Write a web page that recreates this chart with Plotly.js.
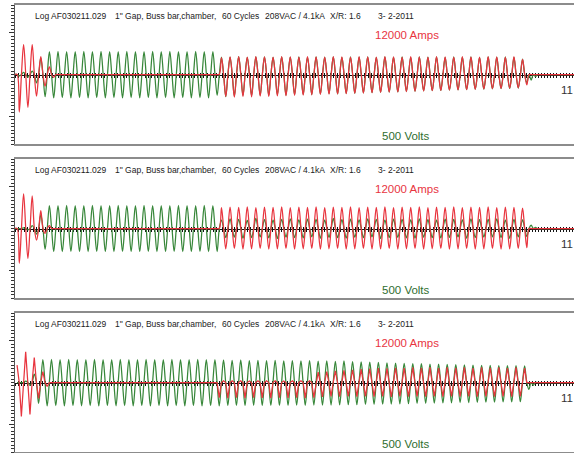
<!DOCTYPE html>
<html>
<head>
<meta charset="utf-8">
<script src="https://cdn.plot.ly/plotly-3.0.1.min.js"></script>
<style>html,body{margin:0;padding:0;background:#fff;}#chart{width:574px;height:453px;}</style>
</head>
<body>
<div id="chart"></div>
<script>
// ---- Data (signed peak value of each half-cycle, 60 Hz) ----
// Panel 1
const p1Volts = [
  0, -10, 15, -20, 25, -60, 120, -160, 165, -168,
  166, -167, 165, -168, 164, -167, 166, -168, 165, -167,
  166, -168, 164, -167, 165, -168, 166, -167, 165, -168,
  164, -167, 166, -168, 165, -167, 166, -168, 164, -167,
  165, -168, 166, -167, 165, -168, 164, -150, 125, -160,
  125, -155, 128, -150, 124, -152, 127, -148, 126, -150,
  124, -146, 127, -148, 125, -145, 126, -143, 124, -144,
  127, -140, 125, -138, 126, -140, 124, -136, 127, -135,
  125, -132, 126, -130, 124, -128, 127, -126, 125, -125,
  126, -122, 124, -120, 127, -118, 125, -116, 126, -115,
  124, -112, 127, -110, 125, -108, 126, -106, 124, -105,
  127, -104, 125, -102, 126, -100, 124, -98, 110, -60,
  -40, -15, 0, 0, 0, 0, 0, 0, 0, 0,
  0
];
const p1Amps = [
  0, -6500, 5150, -5650, 5150, -3750, 3100, -2000, 1300, -500,
  0, 0, 0, 0, 0, 0, 0, 0, 0, 0,
  0, 0, 0, 0, 0, 0, 0, 0, 0, 0,
  0, 0, 0, 0, 0, 0, 0, 0, 0, 0,
  0, 0, 0, 0, 0, 0, 0, 0, 2900, -3800,
  3050, -3900, 3100, -3800, 3000, -3850, 3100, -3750, 3050, -3800,
  3000, -3700, 3100, -3650, 3050, -3600, 3000, -3550, 3100, -3500,
  3050, -3450, 3000, -3400, 3100, -3350, 3050, -3300, 3000, -3250,
  3100, -3200, 3050, -3150, 3000, -3100, 3100, -3050, 3050, -3000,
  3000, -2950, 3100, -2900, 3050, -2850, 3000, -2800, 3100, -2750,
  3050, -2700, 3000, -2650, 3100, -2600, 3050, -2550, 3000, -2500,
  3100, -2450, 3050, -2400, 3000, -2350, 3100, -2300, 2600, -1800,
  0, 0, 0, 0, 0, 0, 0, 0, 0, 0,
  0
];
// Panel 2
const p2Volts = [
  0, 0, 5, -10, 20, -40, 100, -150, 165, -166,
  165, -167, 166, -165, 164, -166, 165, -167, 166, -165,
  165, -166, 164, -167, 166, -165, 165, -166, 164, -167,
  166, -165, 165, -167, 164, -166, 165, -165, 166, -167,
  165, -166, 164, -165, 166, -167, 165, -166, 60, -65,
  70, -62, 65, -70, 58, -66, 72, -60, 64, -68,
  60, -72, 66, -62, 70, -65, 62, -68, 67, -60,
  65, -70, 60, -64, 72, -66, 63, -70, 68, -62,
  62, -66, 70, -60, 65, -72, 60, -65, 68, -63,
  66, -68, 62, -70, 70, -62, 64, -66, 60, -68,
  68, -64, 65, -60, 62, -70, 70, -65, 63, -62,
  65, -60, 70, -65, 60, -70, 65, -60, 62, -58,
  25, 8, 0, 0, 0, 0, 0, 0, 0, 0,
  0
];
const p2Amps = [
  0, -6000, 6000, -5150, 5650, -2000, 3100, -850, 500, 0,
  0, 0, 0, 0, 0, 0, 0, 0, 0, 0,
  0, 0, 0, 0, 0, 0, 0, 0, 0, 0,
  0, 0, 0, 0, 0, 0, 0, 0, 0, 0,
  0, 0, 0, 0, 0, 0, 0, 0, 3600, -3500,
  3700, -3450, 3650, -3550, 3750, -3500, 3600, -3450, 3700, -3550,
  3650, -3500, 3750, -3450, 3600, -3550, 3700, -3500, 3650, -3450,
  3750, -3550, 3600, -3500, 3700, -3450, 3650, -3550, 3750, -3500,
  3600, -3450, 3700, -3550, 3650, -3500, 3750, -3450, 3600, -3550,
  3700, -3500, 3650, -3450, 3750, -3550, 3600, -3500, 3700, -3450,
  3650, -3550, 3750, -3500, 3600, -3450, 3700, -3550, 3650, -3500,
  3750, -3450, 3600, -3550, 3700, -3500, 3650, -3450, 3500, -3300,
  0, 0, 0, 0, 0, 0, 0, 0, 0, 0,
  0
];
// Panel 3
const p3Volts = [
  0, 0, 10, -20, 60, -150, 165, -168, 166, -167,
  165, -168, 166, -167, 164, -168, 165, -167, 166, -168,
  164, -167, 165, -168, 166, -167, 165, -168, 164, -167,
  166, -168, 165, -167, 164, -168, 166, -167, 165, -168,
  164, -167, 166, -168, 165, -167, 164, -168, 162, -166,
  160, -165, 162, -166, 158, -164, 160, -166, 157, -165,
  160, -164, 156, -165, 158, -163, 155, -164, 157, -162,
  154, -163, 156, -162, 152, -161, 155, -160, 150, -160,
  148, -158, 146, -157, 145, -156, 142, -155, 140, -154,
  138, -152, 136, -150, 135, -150, 133, -148, 132, -147,
  130, -146, 128, -145, 126, -145, 125, -143, 124, -142,
  123, -142, 122, -140, 122, -140, 121, -138, 120, -50,
  -20, 0, 0, 0, 0, 0, 0, 0, 0, 0,
  0
];
const p3Amps = [
  3000, -5850, 5300, -5500, 4300, -2750, 1900, -700, 0, 0,
  0, 0, 0, 0, 0, 0, 0, 0, 0, 0,
  0, 0, 0, 0, 0, 0, 0, 0, 0, 0,
  0, 0, 0, 0, 0, 0, 0, 0, 0, 0,
  0, 0, 0, 0, 0, 0, 0, -2600, 300, -2700,
  300, -2600, 300, -2700, 250, -2600, 300, -2650, 300, -2700,
  300, -2600, 250, -2650, 300, -2600, 300, -2700, 300, -2600,
  1800, -2500, 1900, -2400, 2000, -2450, 2100, -2400, 2200, -2450,
  2300, -2400, 2400, -2450, 2500, -2400, 2450, -2500, 2550, -2400,
  2500, -2450, 2600, -2400, 2550, -2450, 2600, -2400, 2500, -2450,
  2600, -2400, 2550, -2450, 2600, -2400, 2500, -2450, 2600, -2400,
  2550, -2450, 2600, -2400, 2500, -2450, 2600, -2400, 2500, 0,
  0, 0, 0, 0, 0, 0, 0, 0, 0, 0,
  0
];
const panelPhase = [0, 0, 4];           // ms, start of first half-cycle
const headerTexts = ['Log AF030211.029', '1" Gap, Buss bar,chamber,', '60 Cycles', '208VAC / 4.1kA', 'X/R: 1.6', '3- 2-2011'];
const ampsLabel = '12000 Amps';
const voltsLabel = '500 Volts';
const timeLabel = '11';
const voltRange = 500, ampRange = 12000, timeMax = 1083;

// ---- Build ----
const HALF = 1000 / 120; // ms per half-cycle at 60 Hz
function wave(peaks, phase) {
  const x = [], y = [];
  peaks.forEach((v, m) => {
    const t = phase + m * HALF;
    x.push(t); y.push(v);
    if (m < peaks.length - 1) { x.push(t + HALF / 2); y.push(0); }
  });
  return {x, y};
}
const W = 574, H = 453;
const GREEN = '#38873a', RED = '#e8353f';
const panels = [
  {volts: p1Volts, amps: p1Amps, top: 5, bot: 144, greenTop: false, redShape: 'spline'},
  {volts: p2Volts, amps: p2Amps, top: 159, bot: 298, greenTop: true, redShape: 'spline'},
  {volts: p3Volts, amps: p3Amps, top: 313, bot: 452, greenTop: false, redShape: 'linear'}
];
const ax = (p, n) => (n === 1 ? p : p + n);
const layout = {
  width: W, height: H, margin: {l: 0, r: 0, t: 0, b: 0},
  paper_bgcolor: '#fff', plot_bgcolor: '#fff', showlegend: false,
  annotations: []
};
const data = [];
const FONT = 'Liberation Sans, Arial, sans-serif';
const px = (x) => x / W, py = (y) => 1 - y / H;
const headerX = [33, 113, 220, 263, 328, 376];

panels.forEach((P, i) => {
  const xm = 3 * i + 1, xz1 = 3 * i + 2, xz2 = 3 * i + 3;
  const yv = 2 * i + 1, ya = 2 * i + 2;
  const dom = [py(P.bot), py(P.top)];
  const mid = (dom[0] + dom[1]) / 2;
  layout[ax('xaxis', xm)] = {
    domain: [15 / W, 1], range: [0, timeMax], anchor: ax('y', yv),
    showline: true, mirror: true, linecolor: '#8c8c8c', linewidth: 2,
    showticklabels: false, ticks: '', showgrid: false, zeroline: false, fixedrange: true
  };
  const zAxis = (side) => ({
    overlaying: ax('x', xm), anchor: 'free', position: mid, range: [0, timeMax],
    showline: true, linecolor: '#111', linewidth: 1, layer: 'below traces',
    ticks: side, ticklen: 2, tickwidth: 1, tickcolor: '#111', dtick: 6, tick0: 0,
    showticklabels: false, showgrid: false, zeroline: false
  });
  layout[ax('xaxis', xz1)] = zAxis('outside');
  layout[ax('xaxis', xz2)] = zAxis('inside');
  layout[ax('yaxis', yv)] = {
    domain: dom, range: [-voltRange, voltRange], anchor: ax('x', xm),
    showline: true, linecolor: '#555', linewidth: 1,
    ticks: 'outside', ticklen: 5, tickcolor: '#333', tickwidth: 1,
    tickmode: 'array', tickvals: [-300, 300], showticklabels: false,
    minor: {ticks: 'outside', ticklen: 3, tickcolor: '#333', dtick: 25, tick0: 0, showgrid: false},
    showgrid: false, zeroline: false
  };
  layout[ax('yaxis', ya)] = {
    overlaying: ax('y', yv), range: [-ampRange, ampRange], anchor: ax('x', xm),
    visible: false, showgrid: false, zeroline: false
  };
  // helper traces for zero-line axes
  [xz1, xz2].forEach(n => data.push({x: [0], y: [0], xaxis: ax('x', n), yaxis: ax('y', yv),
    mode: 'lines', hoverinfo: 'skip', showlegend: false}));
  const gv = wave(P.volts, panelPhase[i]);
  const ra = wave(P.amps, panelPhase[i]);
  const gTrace = {x: gv.x, y: gv.y, xaxis: ax('x', xm), yaxis: ax('y', yv), mode: 'lines',
    line: {color: GREEN, width: 1.25, shape: 'spline', smoothing: 1}, hoverinfo: 'skip'};
  const rTrace = {x: ra.x, y: ra.y, xaxis: ax('x', xm), yaxis: ax('y', ya), mode: 'lines',
    line: {color: RED, width: 1.25, shape: P.redShape, smoothing: 1}, hoverinfo: 'skip'};
  if (P.greenTop) data.push(rTrace, gTrace); else data.push(gTrace, rTrace);

  headerTexts.forEach((t, k) => layout.annotations.push({
    text: t, xref: 'paper', yref: 'paper', x: px(headerX[k]), y: py(P.top + 11),
    xanchor: 'left', yanchor: 'middle', showarrow: false,
    font: {family: FONT, size: 8.5, color: '#222'}
  }));
  layout.annotations.push({text: ampsLabel, xref: 'paper', yref: 'paper', x: px(373), y: py(P.top + 30),
    xanchor: 'left', yanchor: 'middle', showarrow: false, font: {family: FONT, size: 11.5, color: RED}});
  layout.annotations.push({text: voltsLabel, xref: 'paper', yref: 'paper', x: px(380), y: py(P.top + 131),
    xanchor: 'left', yanchor: 'middle', showarrow: false, font: {family: FONT, size: 11.5, color: '#2f6e2f'}});
  layout.annotations.push({text: timeLabel, xref: 'paper', yref: 'paper', x: px(559), y: py(P.top + 85),
    xanchor: 'left', yanchor: 'middle', showarrow: false, font: {family: FONT, size: 11.5, color: '#333'}});
});

Plotly.newPlot('chart', data, layout, {staticPlot: true, displayModeBar: false});
</script>
</body>
</html>
